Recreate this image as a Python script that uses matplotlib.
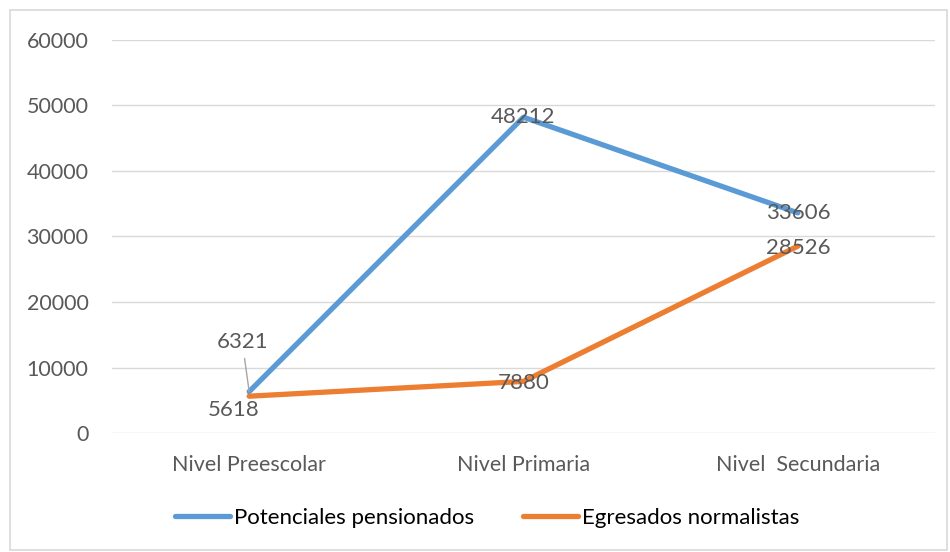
import matplotlib
matplotlib.use("Agg")
import matplotlib.pyplot as plt
from matplotlib.patches import Rectangle

plt.rcParams['font.family'] = ['Lato', 'DejaVu Sans']

categorias = ["Nivel Preescolar", "Nivel Primaria", "Nivel  Secundaria"]
pensionados = [6321, 48212, 33606]
egresados = [5618, 7880, 28526]
yticks = [0, 10000, 20000, 30000, 40000, 50000, 60000]

azul = "#5B9BD5"
naranja = "#ED7D31"
gris_txt = "#595959"
gris_lin = "#D9D9D9"

fig = plt.figure(figsize=(9.5, 5.52), dpi=100)
fig.patches.append(Rectangle((10 / 950, 2 / 552), 937 / 950, 540 / 552,
                             transform=fig.transFigure, fill=False,
                             edgecolor=gris_lin, linewidth=1.2))

ax = fig.add_axes([112 / 950, (552 - 433) / 552, 823 / 950, 393 / 552])
x = list(range(len(categorias)))
ax.plot(x, pensionados, color=azul, lw=3.8, solid_capstyle='round',
        label="Potenciales pensionados", zorder=3)
ax.plot(x, egresados, color=naranja, lw=3.8, solid_capstyle='round',
        label="Egresados normalistas", zorder=3)

ax.set_xlim(-0.5, 2.5)
ax.set_ylim(0, 60000)
ax.set_yticks(yticks)
ax.set_xticks(x)
ax.set_xticklabels(categorias)
ax.tick_params(length=0, labelsize=15.5, colors=gris_txt)
ax.tick_params(axis='x', pad=16)
ax.tick_params(axis='y', pad=17)
ax.grid(axis='y', color=gris_lin, lw=1)
ax.set_axisbelow(True)
for s in ax.spines.values():
    s.set_visible(False)

fs = 16
# etiquetas de datos
ax.annotate(str(pensionados[0]), xy=(x[0], pensionados[0]), xytext=(-5, 36),
            textcoords='offset points', ha='center', va='center',
            fontsize=fs, color=gris_txt,
            arrowprops=dict(arrowstyle='-', color='#A6A6A6', lw=1,
                            shrinkA=3, shrinkB=0))
ax.annotate(str(egresados[0]), xy=(x[0], egresados[0]), xytext=(-11, -10),
            textcoords='offset points', ha='center', va='center',
            fontsize=fs, color=gris_txt)
for i in (1, 2):
    ax.annotate(str(pensionados[i]), xy=(x[i], pensionados[i]), xytext=(0, 0),
                textcoords='offset points', ha='center', va='center',
                fontsize=fs, color=gris_txt, zorder=5)
    ax.annotate(str(egresados[i]), xy=(x[i], egresados[i]), xytext=(0, -1),
                textcoords='offset points', ha='center', va='center',
                fontsize=fs, color=gris_txt, zorder=5)

fig.legend(loc='center', bbox_to_anchor=(487 / 950, (552 - 518) / 552), ncol=2,
           frameon=False, fontsize=16, labelcolor='black',
           handlelength=2.5, handletextpad=0.15, columnspacing=2.2)

fig.savefig("out.png", dpi=100)
